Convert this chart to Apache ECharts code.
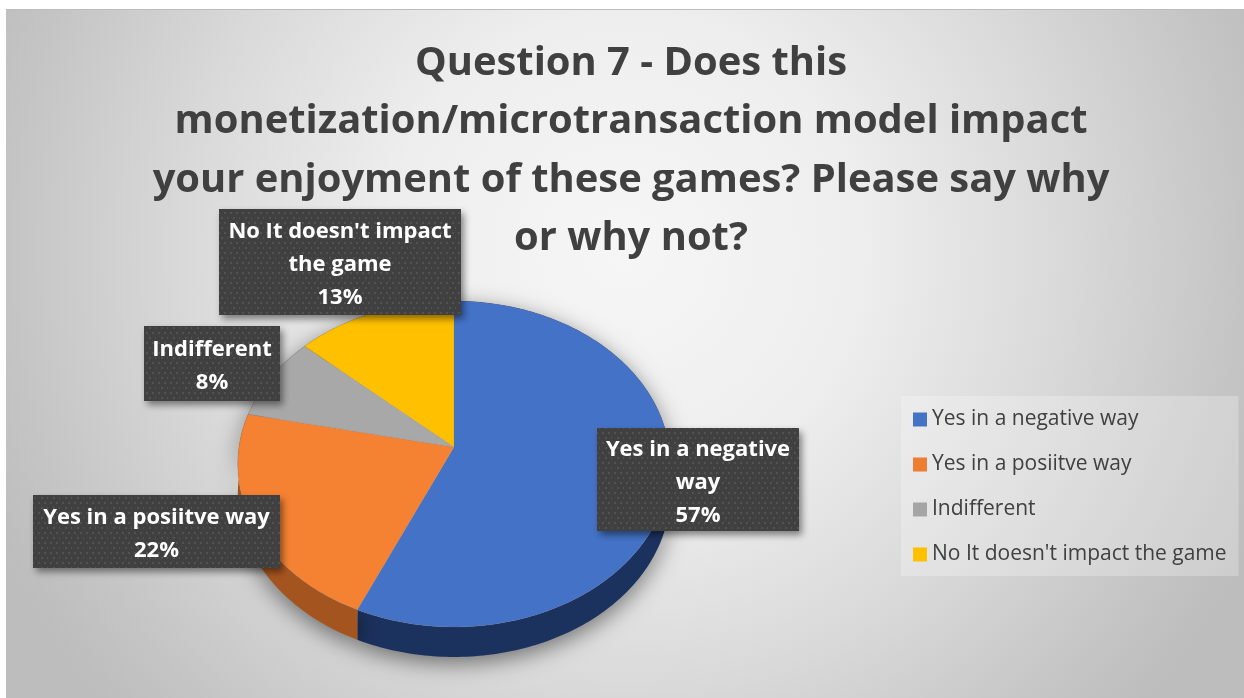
<!DOCTYPE html>
<html>
<head>
<meta charset="utf-8">
<title>Question 7</title>
<script src="https://cdn.jsdelivr.net/npm/echarts@6/dist/echarts.min.js"></script>
<style>
html, body { margin: 0; padding: 0; background: #fff; }
#chart { width: 1244px; height: 698px; }
</style>
</head>
<body>
<div id="chart"></div>
<script>
const chartTitle = 'Question 7 - Does this\nmonetization/microtransaction model impact\nyour enjoyment of these games? Please say why\nor why not?'
const categories = ['Yes in a negative way', 'Yes in a posiitve way', 'Indifferent', "No It doesn't impact the game"]
// counts, they round to 57 / 22 / 8 / 13 %
const counts = [34, 13, 5, 8]
const labelLines = [['Yes in a negative', 'way'], ['Yes in a posiitve way'], ['Indifferent'], ["No It doesn't impact", 'the game']]
const colors = ['#4472c4', '#ed7d31', '#a5a5a5', '#ffc000']
const topColors = ['#4472c7', '#f58233', '#a8a8a8', '#ffc000']
const sideColors = ['#1b315e', '#a4551f', '#6b6b6b', '#a67c00']

// label boxes [left, top, width, height]
const labelBoxes = [[597, 428, 202, 103], [33, 495, 247, 73], [144, 326, 136, 75], [219, 209, 242, 106]]

const FONT = '"Open Sans", "Noto Sans", sans-serif'
const total = counts.reduce((a, b) => a + b, 0)

// pie tilted in perspective, share 0 is 12 o'clock and goes clockwise
const pie = { cx: 454, cy: 447, rx: 215, ry: 161.2, k: 0.1043, depth: 30 }
const project = (share, dy) => {
  const a = share * Math.PI * 2
  const u = Math.sin(a)
  const v = -Math.cos(a)
  const w = 1 - pie.k * v
  return [pie.cx + pie.rx * u / w, pie.cy + pie.ry * v / w + (dy || 0)]
}
const arc = (from, to, dy) => {
  const pts = []
  const n = Math.max(2, Math.ceil((to - from) * 360))
  for (let i = 0; i <= n; i++) pts.push(project(from + (to - from) * i / n, dy))
  return pts
}

// small dotted tile for the label boxes
const tile = document.createElement('canvas')
tile.width = 12
tile.height = 10
const ctx = tile.getContext('2d')
ctx.fillStyle = '#404040'
ctx.fillRect(0, 0, 12, 10)
ctx.fillStyle = '#525252'
ctx.fillRect(2, 2, 2, 2)
ctx.fillRect(8, 2, 2, 2)
ctx.fillRect(5, 7, 2, 2)
ctx.fillRect(11, 7, 1, 2)

const makeSeries = (name, i) => ({
  type: 'custom',
  name,
  coordinateSystem: 'none',
  silent: true,
  itemStyle: { color: colors[i] },
  data: [[counts[i]]],
  renderItem: (params, api) => {
    const before = counts.slice(0, i).reduce((a, b) => a + b, 0)
    const from = before / total
    const to = from + api.value(0) / total
    const top = arc(from, to)
    const box = labelBoxes[i]
    const lines = labelLines[i].concat(Math.round(api.value(0) / total * 100) + '%')
    return {
      type: 'group',
      children: [
        {
          type: 'polygon',
          z2: 1,
          shape: { points: top.concat(arc(from, to, pie.depth).reverse()) },
          style: {
            fill: sideColors[i],
            shadowBlur: 22,
            shadowColor: 'rgba(0,0,0,0.5)',
            shadowOffsetY: 6
          }
        },
        {
          type: 'polygon',
          z2: 10,
          shape: { points: [[pie.cx, pie.cy]].concat(top) },
          style: { fill: topColors[i], stroke: 'rgba(120,120,120,0.35)', lineWidth: 0.6 }
        },
        {
          type: 'rect',
          z2: 20,
          shape: { x: box[0], y: box[1], width: box[2], height: box[3] },
          style: {
            fill: { image: tile, repeat: 'repeat' },
            shadowBlur: 7,
            shadowOffsetX: 3,
            shadowOffsetY: 4,
            shadowColor: 'rgba(0,0,0,0.45)'
          }
        },
        {
          type: 'text',
          z2: 21,
          style: {
            x: box[0] + box[2] / 2,
            y: box[1] + box[3] / 2 + 3,
            text: lines.join('\n'),
            fill: '#fff',
            font: '700 22px ' + FONT,
            lineHeight: 33,
            align: 'center',
            verticalAlign: 'middle'
          }
        }
      ]
    }
  }
})

const myChart = echarts.init(document.getElementById('chart'))
const option = {
  animation: false,
  backgroundColor: '#fff',
  graphic: [
    {
      type: 'rect',
      z: -10,
      silent: true,
      shape: { x: 6, y: 9, width: 1238, height: 689 },
      style: {
        fill: new echarts.graphic.RadialGradient(0.5, 0.35, 1, [
          { offset: 0, color: '#f6f6f6' },
          { offset: 0.34, color: '#eeeeee' },
          { offset: 0.64, color: '#d9d9d9' },
          { offset: 0.9, color: '#c4c4c4' },
          { offset: 1, color: '#bdbdbd' }
        ])
      }
    },
    {
      type: 'rect',
      z: -9,
      silent: true,
      shape: { x: 6, y: 9, width: 1238, height: 1 },
      style: { fill: '#bcbcbc' }
    }
  ],
  title: {
    text: chartTitle,
    left: 626,
    top: 29,
    textAlign: 'center',
    textStyle: {
      color: '#404040',
      fontFamily: FONT,
      fontWeight: 700,
      fontSize: 39.9,
      lineHeight: 58.5
    }
  },
  legend: {
    orient: 'vertical',
    left: 901,
    top: 396,
    padding: [13, 12, 11, 12],
    backgroundColor: 'rgba(255,255,255,0.25)',
    data: categories,
    icon: 'rect',
    itemWidth: 14,
    itemHeight: 14,
    itemGap: 24,
    selectedMode: false,
    textStyle: { color: '#404040', fontFamily: FONT, fontSize: 21 }
  },
  series: categories.map(makeSeries)
}
option && myChart.setOption(option)
window.addEventListener('resize', function () {
  myChart.resize()
})
</script>
</body>
</html>
